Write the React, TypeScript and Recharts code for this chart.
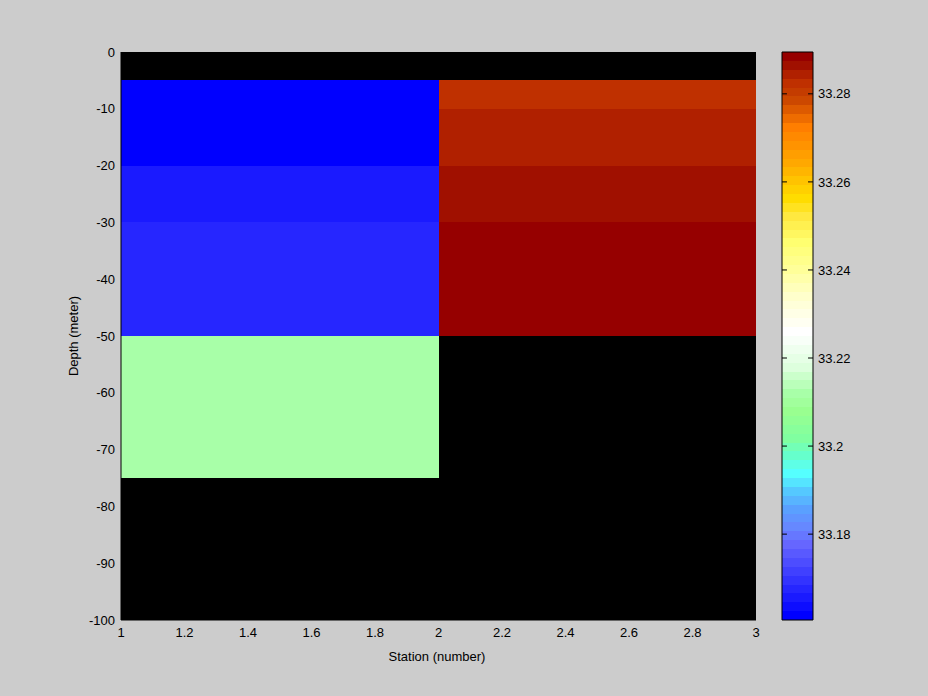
import React from "react";
import {
  ComposedChart,
  Scatter,
  XAxis,
  YAxis,
  ReferenceArea,
  ReferenceLine,
  CartesianGrid,
  Label,
} from "recharts";

// depth bin edges (meter) and station edges
const depthEdges = [0, -5, -10, -20, -30, -50, -75, -100];
const stationEdges = [1, 2, 3];

// salinity per depth bin, null = no data
const station1 = [null, 33.1615, 33.1615, 33.1655, 33.1676, 33.2119, null];
const station2 = [null, 33.2824, 33.2844, 33.2864, 33.2885, null, null];

const xTicks = [1, 1.2, 1.4, 1.6, 1.8, 2, 2.2, 2.4, 2.6, 2.8, 3];
const yTicks = [0, -10, -20, -30, -40, -50, -60, -70, -80, -90, -100];
const cTicks = [33.18, 33.2, 33.22, 33.24, 33.26, 33.28];
const cMin = 33.1605;
const cMax = 33.2895;

// colormap stops: [band index, color]
const cmapStops: [number, string][] = [
  [0, "#0000ff"], [8, "#6666ff"], [9, "#6677ff"], [10, "#6688ff"],
  [12, "#5aa0ff"], [14, "#55c8ff"], [16, "#55ffff"], [18, "#66ffcc"],
  [20, "#80ffa0"], [23, "#99ff90"], [25, "#a8ffa8"], [28, "#ddffdd"],
  [31, "#f8fff8"], [32, "#ffffff"], [36, "#ffffcc"], [39, "#ffff99"],
  [42, "#ffff70"], [45, "#ffe840"], [47, "#ffdc00"], [48, "#ffd000"],
  [51, "#ffa800"], [55, "#ff7e00"], [57, "#dd5a00"], [58, "#cc4800"],
  [59, "#c43c00"], [60, "#bf3000"], [61, "#b02000"], [62, "#a01000"],
  [63, "#960000"],
];
const NB = 64;

const hex = (c: string) => [1, 3, 5].map((i) => parseInt(c.slice(i, i + 2), 16));
const bandColor = (b: number) => {
  for (let i = 0; i < cmapStops.length - 1; i++) {
    const [i0, c0] = cmapStops[i];
    const [i1, c1] = cmapStops[i + 1];
    if (b >= i0 && b <= i1) {
      const t = (b - i0) / (i1 - i0);
      const a = hex(c0), z = hex(c1);
      const m = a.map((v, k) => Math.round(v + (z[k] - v) * t));
      return `rgb(${m[0]},${m[1]},${m[2]})`;
    }
  }
  return cmapStops[cmapStops.length - 1][1];
};
const valueColor = (v: number) =>
  bandColor(Math.max(0, Math.min(NB - 1, Math.floor(((v - cMin) / (cMax - cMin)) * NB))));

const stations = [station1, station2];
const cells = stations.flatMap((col, s) =>
  col.map((v, d) => ({
    x1: stationEdges[s],
    x2: stationEdges[s + 1],
    y1: depthEdges[d + 1],
    y2: depthEdges[d],
    v,
  }))
);
const centers = cells.map((c) => ({ x: (c.x1 + c.x2) / 2, y: (c.y1 + c.y2) / 2 }));
const bands = Array.from({ length: NB }, (_, i) => ({
  y1: cMin + ((cMax - cMin) * i) / NB,
  y2: cMin + ((cMax - cMin) * (i + 1)) / NB,
  color: bandColor(i),
}));

const font = { fontFamily: "Liberation Sans, Arial, sans-serif", fontSize: 13, fill: "#000" };

export default function App() {
  return (
    <div style={{ position: "fixed", left: 0, top: 0, width: 928, height: 696, background: "#cccccc" }}>
      <div style={{ position: "absolute", left: 0, top: 0 }}>
        <ComposedChart
          width={928}
          height={696}
          margin={{ top: 52, right: 172, bottom: 0, left: 0 }}
        >
          <CartesianGrid fill="#000" stroke="none" horizontal={false} vertical={false} />
          <XAxis
            type="number"
            dataKey="x"
            domain={[1, 3]}
            ticks={xTicks}
            height={76}
            tickLine={false}
            axisLine={{ stroke: "#000" }}
            tick={font}
            tickSize={6}
            tickMargin={2}
            allowDataOverflow
          >
            <Label
              content={() => (
                <text x={437} y={661} textAnchor="middle" style={font}>
                  Station (number)
                </text>
              )}
            />
          </XAxis>
          <YAxis
            type="number"
            dataKey="y"
            domain={[-100, 0]}
            ticks={yTicks}
            width={121}
            tickLine={false}
            axisLine={{ stroke: "#000" }}
            tick={font}
            tickSize={4}
            tickMargin={2}
            allowDataOverflow
          >
            <Label
              content={() => (
                <text
                  x={78}
                  y={336}
                  textAnchor="middle"
                  transform="rotate(-90 78 336)"
                  style={font}
                >
                  Depth (meter)
                </text>
              )}
            />
          </YAxis>
          {cells
            .filter((c) => c.v !== null)
            .map((c, i) => (
              <ReferenceArea
                key={i}
                x1={c.x1}
                x2={c.x2}
                y1={c.y1}
                y2={c.y2}
                fill={valueColor(c.v as number)}
                fillOpacity={1}
                stroke="none"
                shapeRendering="crispEdges"
              />
            ))}
          <Scatter data={centers} isAnimationActive={false} shape={() => <g />} />
        </ComposedChart>
      </div>
      <div style={{ position: "absolute", left: 0, top: 0 }}>
        <ComposedChart
          width={928}
          height={696}
          margin={{ top: 52, right: 0, bottom: 76, left: 782 }}
        >
          <XAxis type="number" dataKey="x" domain={[0, 1]} hide />
          <YAxis
            type="number"
            dataKey="y"
            orientation="right"
            domain={[cMin, cMax]}
            ticks={cTicks}
            width={115}
            tickLine={false}
            axisLine={false}
            tick={font}
            tickSize={3}
            tickMargin={2}
            tickFormatter={(v: number) => String(v)}
            allowDataOverflow
          />
          {bands.map((b, i) => (
            <ReferenceArea
              key={i}
              x1={0}
              x2={1}
              y1={b.y1}
              y2={b.y2}
              fill={b.color}
              fillOpacity={1}
              stroke="none"
              shapeRendering="crispEdges"
            />
          ))}
          {cTicks.map((t) => (
            <ReferenceLine
              key={"l" + t}
              segment={[{ x: 0, y: t }, { x: 0.16, y: t }]}
              stroke="#000"
            />
          ))}
          {cTicks.map((t) => (
            <ReferenceLine
              key={"r" + t}
              segment={[{ x: 0.84, y: t }, { x: 1, y: t }]}
              stroke="#000"
            />
          ))}
          <ReferenceArea
            x1={0}
            x2={1}
            y1={cMin}
            y2={cMax}
            fill="none"
            stroke="#000"
            strokeWidth={1}
            ifOverflow="visible"
          />
          <Scatter
            data={[{ x: 0.5, y: (cMin + cMax) / 2 }]}
            isAnimationActive={false}
            shape={() => <g />}
          />
        </ComposedChart>
      </div>
    </div>
  );
}
